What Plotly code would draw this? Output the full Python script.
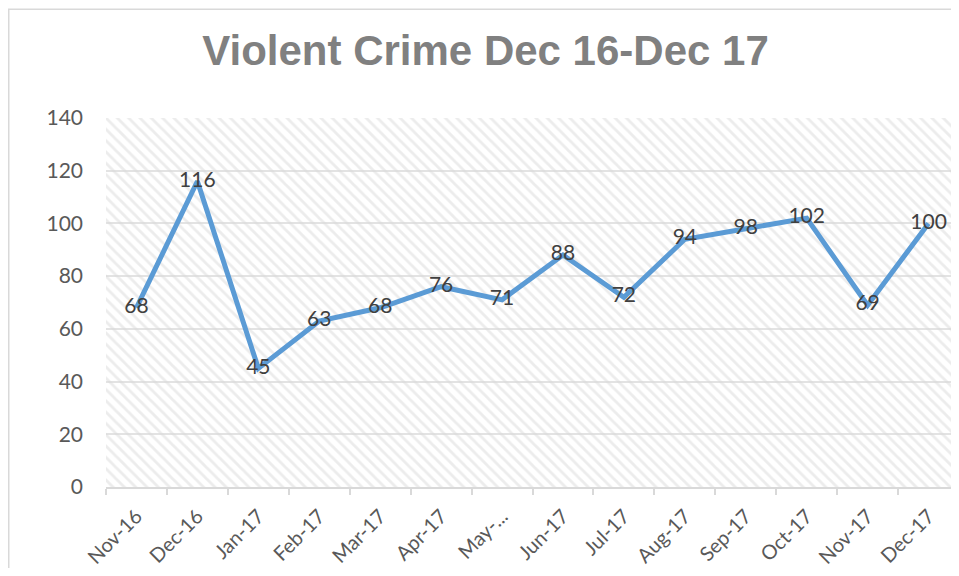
import plotly.graph_objects as go

MONTHS = ["Nov-16", "Dec-16", "Jan-17", "Feb-17", "Mar-17", "Apr-17", "May-17",
          "Jun-17", "Jul-17", "Aug-17", "Sep-17", "Oct-17", "Nov-17", "Dec-17"]
MONTH_LABELS = ["Nov-16", "Dec-16", "Jan-17", "Feb-17", "Mar-17", "Apr-17", "May-...",
                "Jun-17", "Jul-17", "Aug-17", "Sep-17", "Oct-17", "Nov-17", "Dec-17"]
CRIMES = [68, 116, 45, 63, 68, 76, 71, 88, 72, 94, 98, 102, 69, 100]
Y_TICKS = [0, 20, 40, 60, 80, 100, 120, 140]

# page body has an 8px margin, so the figure is sized to fit without scrollbars
W, H = 951, 560
M_L, M_R, M_T, M_B = 98, 0, 110, 79
PLOT_W = W - M_L - M_R
PLOT_H = H - M_T - M_B

fig = go.Figure()

# hatched plot-area background (Excel style pattern fill)
fig.add_trace(go.Bar(
    x=[MONTHS[0]],
    y=[Y_TICKS[-1]],
    width=[len(MONTHS)],
    offset=[-0.5],
    marker=dict(
        color="rgba(0,0,0,0)",
        line=dict(width=0),
        pattern=dict(shape="\\", fgcolor="#dadada", bgcolor="rgba(0,0,0,0)",
                     size=8, solidity=0.35),
    ),
    hoverinfo="skip",
    showlegend=False,
))

fig.add_trace(go.Scatter(
    x=MONTHS,
    y=CRIMES,
    mode="lines+text",
    line=dict(color="#5B9BD5", width=5),
    text=[str(v) for v in CRIMES],
    textposition="middle center",
    textfont=dict(family="Lato, Liberation Sans, sans-serif", size=21, color="#404040"),
    showlegend=False,
))

# outer chart border (cut off on the right and bottom like the source)
fig.add_shape(
    type="rect", xref="paper", yref="paper",
    x0=(0.75 - M_L) / PLOT_W, x1=1.2,
    y0=-0.6, y1=(H - M_B - 0.75) / PLOT_H,
    line=dict(color="#d9d9d9", width=1.5),
    fillcolor="rgba(0,0,0,0)",
    layer="below",
)

fig.update_layout(
    width=W,
    height=H,
    margin=dict(l=M_L, r=M_R, t=M_T, b=M_B),
    paper_bgcolor="white",
    plot_bgcolor="white",
    title=dict(
        text="Violent Crime Dec 16-Dec 17",
        x=477.5 / W, xref="container", xanchor="center",
        y=1 - 42 / H, yref="container", yanchor="middle",
        font=dict(family="Liberation Sans, Arial, sans-serif", size=42, color="#808080", weight="bold"),
    ),
    xaxis=dict(
        type="category",
        categoryorder="array",
        categoryarray=MONTHS,
        tickvals=MONTHS,
        ticktext=MONTH_LABELS,
        range=[-0.5, len(MONTHS) - 0.5],
        tickangle=-45,
        tickfont=dict(family="Lato, Liberation Sans, sans-serif", size=20, color="#595959"),
        showgrid=False,
        showline=True,
        linecolor="#d9d9d9",
        linewidth=1.5,
        ticks="outside",
        tickson="boundaries",
        ticklen=6,
        tickcolor="#d9d9d9",
        tickwidth=1.5,
        ticklabelstandoff=8,
        zeroline=False,
    ),
    yaxis=dict(
        range=[0, Y_TICKS[-1]],
        tickvals=Y_TICKS,
        tickfont=dict(family="Lato, Liberation Sans, sans-serif", size=21, color="#595959"),
        showgrid=True,
        gridcolor="#e3e3e3",
        gridwidth=1.5,
        showline=False,
        zeroline=False,
        ticks="",
        ticklabelstandoff=22,
    ),
)

fig.write_html("out.html")
